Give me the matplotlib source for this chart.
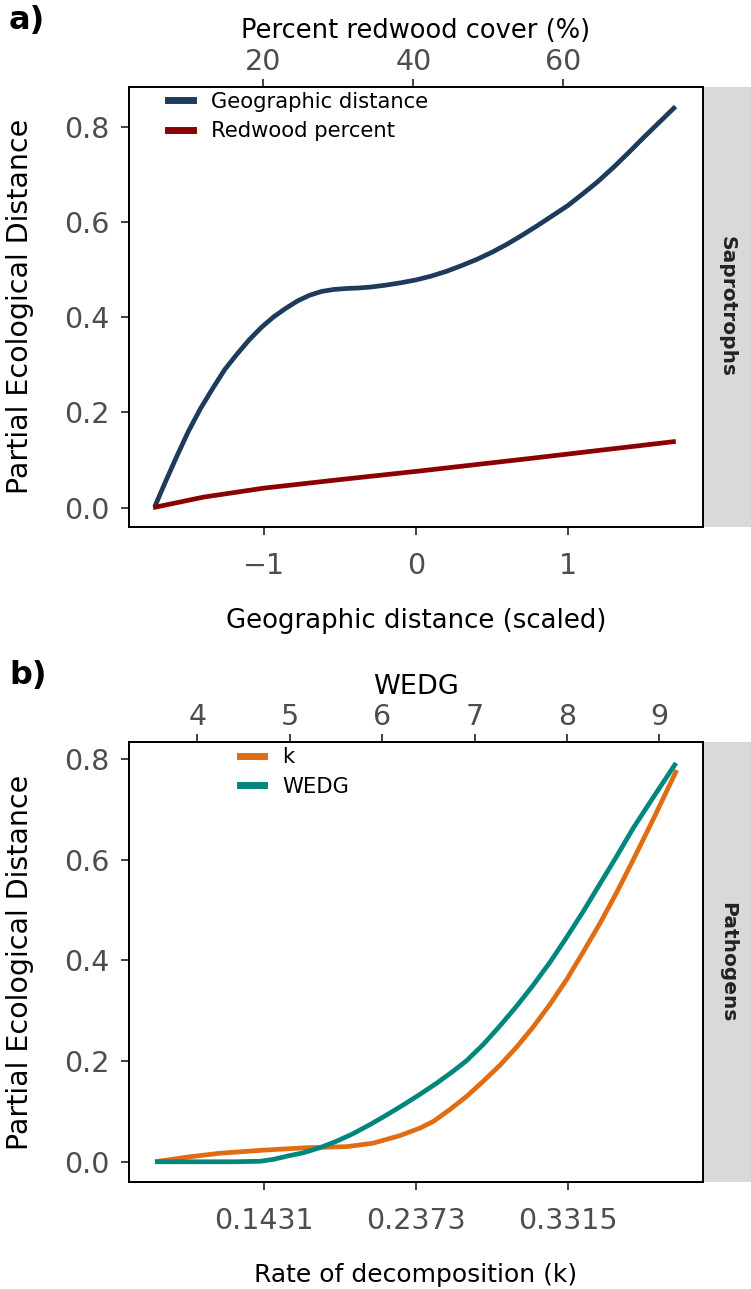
import numpy as np
import matplotlib
matplotlib.use("Agg")
import matplotlib.pyplot as plt
from matplotlib.lines import Line2D

# ── data: panel a (Saprotrophs) ───────────────────────────────────────────
geo_x = [-1.72, -1.65, -1.58, -1.50, -1.42, -1.34, -1.26, -1.18, -1.10,
         -1.02, -0.94, -0.86, -0.78, -0.70, -0.62, -0.54, -0.46, -0.38,
         -0.30, -0.20, -0.10, 0.00, 0.10, 0.20, 0.30, 0.40, 0.50, 0.60,
         0.70, 0.80, 0.90, 1.00, 1.10, 1.20, 1.30, 1.40, 1.50, 1.60, 1.71]
geo_y = [0.003, 0.055, 0.105, 0.160, 0.208, 0.250, 0.290, 0.322, 0.352,
         0.378, 0.400, 0.418, 0.434, 0.446, 0.454, 0.458, 0.460, 0.461,
         0.463, 0.467, 0.472, 0.478, 0.486, 0.496, 0.508, 0.521, 0.536, 0.553,
         0.572, 0.592, 0.613, 0.634, 0.659, 0.685, 0.714, 0.745, 0.777, 0.808, 0.842]

redwood_pct = [5.3, 12.0, 20.1, 30.9, 40.9, 56.0, 75.0]
redwood_y   = [0.000, 0.022, 0.041, 0.060, 0.077, 0.104, 0.139]

# ── data: panel b (Pathogens) ─────────────────────────────────────────────
k_x = [0.0756, 0.0950, 0.1158, 0.1427, 0.1696, 0.1944, 0.2108, 0.2274,
       0.2398, 0.2480, 0.2584, 0.2687, 0.2790, 0.2894, 0.2997, 0.3100,
       0.3204, 0.3307, 0.3410, 0.3514, 0.3617, 0.3720, 0.3855, 0.3989]
k_y = [0.000, 0.009, 0.017, 0.023, 0.028, 0.030, 0.037, 0.052,
       0.067, 0.080, 0.104, 0.130, 0.160, 0.192, 0.228, 0.268,
       0.313, 0.362, 0.417, 0.474, 0.535, 0.600, 0.688, 0.778]

wedg_x = [3.542, 4.000, 4.400, 4.679, 4.830, 4.968, 5.150, 5.328, 5.510,
          5.688, 5.870, 6.050, 6.230, 6.410, 6.590, 6.770, 6.916, 7.100,
          7.276, 7.460, 7.636, 7.820, 7.998, 8.180, 8.358, 8.540, 8.719,
          8.950, 9.181]
wedg_y = [0.000, 0.000, 0.000, 0.001, 0.005, 0.011, 0.018, 0.028, 0.041,
          0.056, 0.074, 0.093, 0.113, 0.134, 0.156, 0.180, 0.201, 0.234,
          0.270, 0.310, 0.351, 0.397, 0.446, 0.498, 0.552, 0.607, 0.663,
          0.728, 0.792]

k_ticks  = [0.1431, 0.2373, 0.3315]
k_labels = ["0.1431", "0.2373", "0.3315"]
y_ticks  = [0.0, 0.2, 0.4, 0.6, 0.8]

# ── style ─────────────────────────────────────────────────────────────────
C_GEO, C_RED = "#1E3A5C", "#8B0000"
C_K, C_WEDG  = "#E06C13", "#00877D"
TICK_C = "#4D4D4D"
STRIP_C = "#D9D9D9"
LW = 3.4
TS = 20.5

plt.rcParams["font.family"] = "DejaVu Sans"

fig = plt.figure(figsize=(7.51, 12.89), dpi=100)

def style_axes(ax, top):
    for sp in ax.spines.values():
        sp.set_linewidth(1.4)
        sp.set_color("black")
    ax.tick_params(axis="x", colors="#333333", labelsize=TS,
                   length=6, width=1.3, labelcolor=TICK_C, pad=12)
    ax.tick_params(axis="y", colors="#333333", labelsize=TS,
                   length=6, width=1.3, labelcolor=TICK_C, pad=8)
    top.tick_params(axis="x", colors="#333333", labelsize=TS,
                    length=6, width=1.3, labelcolor=TICK_C, pad=2)
    for sp in top.spines.values():
        sp.set_linewidth(1.4)
    ax.yaxis.set_label_coords(-0.167, 0.5)
    ax.xaxis.set_label_coords(0.5, -0.185)

def add_strip(ax_pos, label):
    l, b, w, h = ax_pos
    sx = fig.add_axes([0.9374, b, 1.0 - 0.9374, h])
    sx.set_facecolor(STRIP_C)
    sx.set_xticks([]); sx.set_yticks([])
    for sp in sx.spines.values():
        sp.set_visible(False)
    sx.text(0.5, 0.5, label, rotation=-90, ha="center", va="center",
            fontsize=14.5, fontweight="bold", color="#222222",
            transform=sx.transAxes)

# ── panel a ───────────────────────────────────────────────────────────────
pos_a = [0.1722, 0.5914, 0.7635, 0.3413]
ax1 = fig.add_axes(pos_a)
ax1t = ax1.twiny()
ax1.plot(geo_x, geo_y, color=C_GEO, lw=LW, solid_capstyle="butt")
ax1t.plot(redwood_pct, redwood_y, color=C_RED, lw=LW, solid_capstyle="butt")
ax1.set_xlim(-1.889, 1.889)
ax1t.set_xlim(2.13, 78.59)
ax1.set_ylim(-0.040, 0.8835)
ax1.set_xticks([-1, 0, 1])
ax1.set_xticklabels(["\u22121", "0", "1"])
ax1t.set_xticks([20, 40, 60])
ax1.set_yticks(y_ticks)
ax1.set_yticklabels([f"{v:.1f}" for v in y_ticks])
ax1.set_xlabel("Geographic distance (scaled)", fontsize=18.7)
ax1t.set_xlabel("Percent redwood cover (%)", fontsize=18.5, labelpad=7)
ax1.set_ylabel("Partial Ecological Distance", fontsize=20.5)
style_axes(ax1, ax1t)
ax1.legend(handles=[Line2D([], [], color=C_GEO, lw=5),
                    Line2D([], [], color=C_RED, lw=5)],
           labels=["Geographic distance", "Redwood percent"],
           loc="upper left", bbox_to_anchor=(0.035, 1.032), frameon=False,
           fontsize=15.2, handlelength=1.15, handletextpad=0.85, labelspacing=0.45)
add_strip(pos_a, "Saprotrophs")
fig.text(0.012, 0.984, "a)", fontsize=23, fontweight="bold", va="center")

# ── panel b ───────────────────────────────────────────────────────────────
pos_b = [0.1722, 0.0832, 0.7635, 0.3409]
ax2 = fig.add_axes(pos_b)
ax2t = ax2.twiny()
ax2.plot(k_x, k_y, color=C_K, lw=LW, solid_capstyle="butt")
ax2t.plot(wedg_x, wedg_y, color=C_WEDG, lw=LW, solid_capstyle="butt")
ax2.set_xlim(0.0596, 0.415)
ax2t.set_xlim(3.264, 9.47)
ax2.set_ylim(-0.0397, 0.833)
ax2.set_xticks(k_ticks)
ax2.set_xticklabels(k_labels)
ax2t.set_xticks([4, 5, 6, 7, 8, 9])
ax2.set_yticks(y_ticks)
ax2.set_yticklabels([f"{v:.1f}" for v in y_ticks])
ax2.set_xlabel("Rate of decomposition (k)", fontsize=18)
ax2t.set_xlabel("WEDG", fontsize=19.5, labelpad=7)
ax2.set_ylabel("Partial Ecological Distance", fontsize=20.5)
style_axes(ax2, ax2t)
ax2.legend(handles=[Line2D([], [], color=C_K, lw=5),
                    Line2D([], [], color=C_WEDG, lw=5)],
           labels=["k", "WEDG"],
           loc="upper left", bbox_to_anchor=(0.16, 1.032), frameon=False,
           fontsize=15.2, handlelength=1.15, handletextpad=0.85, labelspacing=0.45)
add_strip(pos_b, "Pathogens")
fig.text(0.012, 0.476, "b)", fontsize=23, fontweight="bold", va="center")

fig.savefig("out.png", dpi=100)
